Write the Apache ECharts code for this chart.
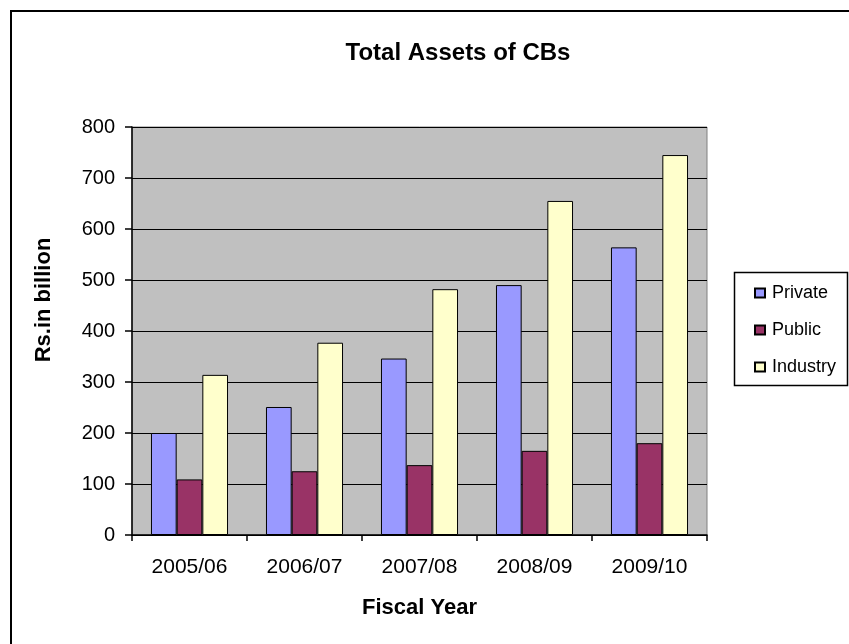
<!DOCTYPE html>
<html><head><meta charset="utf-8">
<script src="https://cdn.jsdelivr.net/npm/echarts@6/dist/echarts.min.js"></script>
<style>html,body{margin:0;padding:0;background:#fff}#c{width:849px;height:644px}</style>
</head><body><div id="c"></div>
<script>
const categories = ['2005/06', '2006/07', '2007/08', '2008/09', '2009/10'];
const privateVals = [200, 251, 346, 490, 564];
const publicVals = [109, 125, 137, 165, 180];
const industryVals = [314, 377, 482, 655, 745];
const yTicks = [0, 100, 200, 300, 400, 500, 600, 700, 800];

const FONT = '"Liberation Sans", Arial, sans-serif';
const chart = echarts.init(document.getElementById('c'));
chart.setOption({
  animation: false,
  backgroundColor: '#fff',
  title: {
    text: 'Total Assets of CBs', left: 453, top: 36, textAlign: 'center',
    textStyle: { fontFamily: FONT, fontSize: 24, fontWeight: 'bold', color: '#000' }
  },
  graphic: [
    { type: 'rect', shape: { x: 11, y: 11, width: 900, height: 700 }, style: { fill: 'none', stroke: '#000', lineWidth: 2 }, silent: true },
    { type: 'rect', shape: { x: 734.5, y: 272.5, width: 113, height: 113 }, style: { fill: '#fff', stroke: '#000', lineWidth: 1.5 }, silent: true, z: 0 }
  ],
  legend: {
    orient: 'vertical', left: 749, top: 279, itemWidth: 10, itemHeight: 9, itemGap: 19,
    icon: 'rect', z: 5,
    textStyle: { fontFamily: FONT, fontSize: 18, color: '#000', padding: [0, 0, 0, 2] },
    data: ['Private', 'Public', 'Industry']
  },
  grid: { left: 132, right: 142, top: 127, bottom: 109, show: true, backgroundColor: '#C0C0C0', borderColor: '#808080', borderWidth: 1 },
  xAxis: {
    type: 'category', data: categories,
    name: 'Fiscal Year', nameLocation: 'middle', nameGap: 62,
    nameTextStyle: { fontFamily: FONT, fontSize: 22, fontWeight: 'bold', color: '#000' },
    axisLine: { lineStyle: { color: '#000', width: 1.5 } },
    axisTick: { show: true, length: 6, lineStyle: { color: '#000', width: 1.5 } },
    axisLabel: { fontFamily: FONT, fontSize: 21, color: '#000', margin: 22 }
  },
  yAxis: {
    type: 'value', min: 0, max: 800, interval: 100,
    name: 'Rs.in billion', nameLocation: 'middle', nameGap: 77,
    nameTextStyle: { fontFamily: FONT, fontSize: 22, fontWeight: 'bold', color: '#000', padding: [0, 0, 0, 62] },
    axisLine: { show: true, lineStyle: { color: '#000', width: 1.5 } },
    axisTick: { show: true, length: 7, lineStyle: { color: '#000', width: 1.5 } },
    axisLabel: { fontFamily: FONT, fontSize: 20, color: '#000', margin: 17,
      formatter: v => yTicks.includes(v) ? String(v) : '' },
    splitLine: { show: true, lineStyle: { color: '#000', width: 1.2 } }
  },
  series: [
    { name: 'Private', type: 'bar', data: privateVals, barGap: '0%', barCategoryGap: '33%',
      itemStyle: { color: '#9999FF', borderColor: '#000', borderWidth: 1 } },
    { name: 'Public', type: 'bar', data: publicVals,
      itemStyle: { color: '#993366', borderColor: '#000', borderWidth: 1 } },
    { name: 'Industry', type: 'bar', data: industryVals,
      itemStyle: { color: '#FFFFCC', borderColor: '#000', borderWidth: 1 } }
  ]
});
</script></body></html>
